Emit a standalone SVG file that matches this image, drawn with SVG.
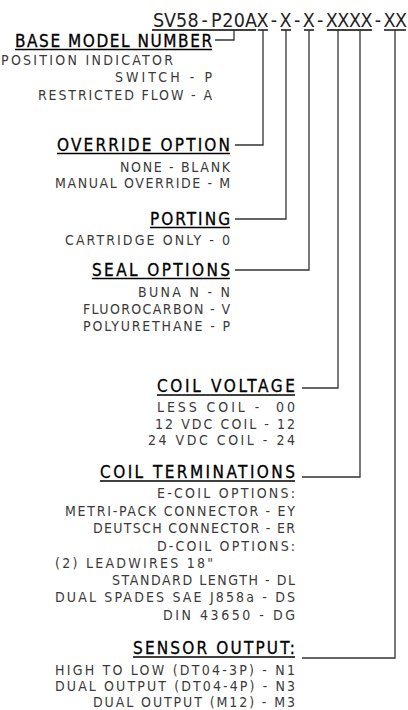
<svg xmlns="http://www.w3.org/2000/svg" width="408" height="710" viewBox="0 0 408 710">
<style>
text { font-family: "DejaVu Sans Condensed", "DejaVu Sans", sans-serif; font-stretch: condensed; white-space: pre; }
.hdr { font-size: 19.5px; fill: #222; text-anchor: middle; }
.h { font-size: 17px; fill: #000; stroke: #000; stroke-width: 0.3; text-anchor: end; }
.b { font-size: 14px; fill: #3a3a3a; text-anchor: end; }
.bs { font-size: 14px; fill: #3a3a3a; text-anchor: start; }
.u { stroke: #000; stroke-width: 1.4; }
.c { stroke: #333; stroke-width: 1.3; fill: none; }
</style>
<rect width="408" height="710" fill="#fff"/>

<g id="model-code">
<text class="hdr" y="27" x="158.5 170 181.6 193.2 204.7 216.3 227.8 239.4 250.9 262.5 274 285.6 297.1 308.7 320.2 331.8 343.3 354.9 366.4 378 389.5 401.1">SV58-P20AX-X-X-XXXX-XX</text>
<line class="u" x1="152" y1="30" x2="256" y2="30"/>
<line class="u" x1="258" y1="30" x2="268" y2="30"/>
<line class="u" x1="281" y1="30" x2="291" y2="30"/>
<line class="u" x1="304" y1="30" x2="314" y2="30"/>
<line class="u" x1="327" y1="30" x2="372" y2="30"/>
<line class="u" x1="384" y1="30" x2="406" y2="30"/>
</g>

<g id="connectors">
<polyline class="c" points="215,40 234,40 234,30"/>
<polyline class="c" points="235,145 263,145 263,30"/>
<polyline class="c" points="235,219 286,219 286,30"/>
<polyline class="c" points="235,270 309,270 309,30"/>
<polyline class="c" points="302,388 338,388 338,30"/>
<polyline class="c" points="302,477 360,477 360,30"/>
<polyline class="c" points="302,658 395,658 395,30"/>
</g>

<g id="base-model-number">
<text class="h" x="212" y="47" textLength="197" lengthAdjust="spacing">BASE MODEL NUMBER</text>
<line class="u" x1="15" y1="49.5" x2="212" y2="49.5"/>
<text class="bs" x="1" y="65" textLength="172" lengthAdjust="spacing">POSITION INDICATOR</text>
<text class="b" x="212" y="82" textLength="97" lengthAdjust="spacing">SWITCH - P</text>
<text class="b" x="212" y="100" textLength="174" lengthAdjust="spacing">RESTRICTED FLOW - A</text>
</g>

<g id="override-option">
<text class="h" x="230" y="151" textLength="173" lengthAdjust="spacing">OVERRIDE OPTION</text>
<line class="u" x1="57" y1="153.5" x2="230" y2="153.5"/>
<text class="b" x="230" y="172" textLength="110" lengthAdjust="spacing">NONE - BLANK</text>
<text class="b" x="230" y="188" textLength="175" lengthAdjust="spacing">MANUAL OVERRIDE - M</text>
</g>

<g id="porting">
<text class="h" x="230" y="225" textLength="80" lengthAdjust="spacing">PORTING</text>
<line class="u" x1="150" y1="227.5" x2="230" y2="227.5"/>
<text class="b" x="230" y="245" textLength="165" lengthAdjust="spacing">CARTRIDGE ONLY - 0</text>
</g>

<g id="seal-options">
<text class="h" x="230" y="276" textLength="138" lengthAdjust="spacing">SEAL OPTIONS</text>
<line class="u" x1="92" y1="278.5" x2="230" y2="278.5"/>
<text class="b" x="230" y="297" textLength="92" lengthAdjust="spacing">BUNA N - N</text>
<text class="b" x="230" y="314" textLength="147" lengthAdjust="spacing">FLUOROCARBON - V</text>
<text class="b" x="230" y="331" textLength="147" lengthAdjust="spacing">POLYURETHANE - P</text>
</g>

<g id="coil-voltage">
<text class="h" x="295" y="392" textLength="138" lengthAdjust="spacing">COIL VOLTAGE</text>
<line class="u" x1="157" y1="395" x2="295" y2="395"/>
<text class="b" x="295" y="412" textLength="138" lengthAdjust="spacing">LESS COIL -  00</text>
<text class="b" x="295" y="429" textLength="140" lengthAdjust="spacing">12 VDC COIL - 12</text>
<text class="b" x="295" y="445" textLength="147" lengthAdjust="spacing">24 VDC COIL - 24</text>
</g>

<g id="coil-terminations">
<text class="h" x="295" y="478" textLength="195" lengthAdjust="spacing">COIL TERMINATIONS</text>
<line class="u" x1="100" y1="481" x2="295" y2="481"/>
<text class="b" x="295" y="498" textLength="138" lengthAdjust="spacing">E-COIL OPTIONS:</text>
<text class="b" x="295" y="516" textLength="230" lengthAdjust="spacing">METRI-PACK CONNECTOR - EY</text>
<text class="b" x="295" y="533" textLength="202" lengthAdjust="spacing">DEUTSCH CONNECTOR - ER</text>
<text class="b" x="295" y="551" textLength="138" lengthAdjust="spacing">D-COIL OPTIONS:</text>
<text class="bs" x="55" y="568" textLength="158" lengthAdjust="spacing">(2) LEADWIRES 18"</text>
<text class="b" x="295" y="585" textLength="183" lengthAdjust="spacing">STANDARD LENGTH - DL</text>
<text class="b" x="295" y="602" textLength="240" lengthAdjust="spacing">DUAL SPADES SAE J858a - DS</text>
<text class="b" x="295" y="620" textLength="132" lengthAdjust="spacing">DIN 43650 - DG</text>
</g>

<g id="sensor-output">
<text class="h" x="295" y="654" textLength="162" lengthAdjust="spacing">SENSOR OUTPUT:</text>
<line class="u" x1="133" y1="657" x2="295" y2="657"/>
<text class="b" x="295" y="675" textLength="240" lengthAdjust="spacing">HIGH TO LOW (DT04-3P) - N1</text>
<text class="b" x="295" y="691" textLength="240" lengthAdjust="spacing">DUAL OUTPUT (DT04-4P) - N3</text>
<text class="b" x="295" y="707" textLength="202" lengthAdjust="spacing">DUAL OUTPUT (M12) - M3</text>
</g>
</svg>
